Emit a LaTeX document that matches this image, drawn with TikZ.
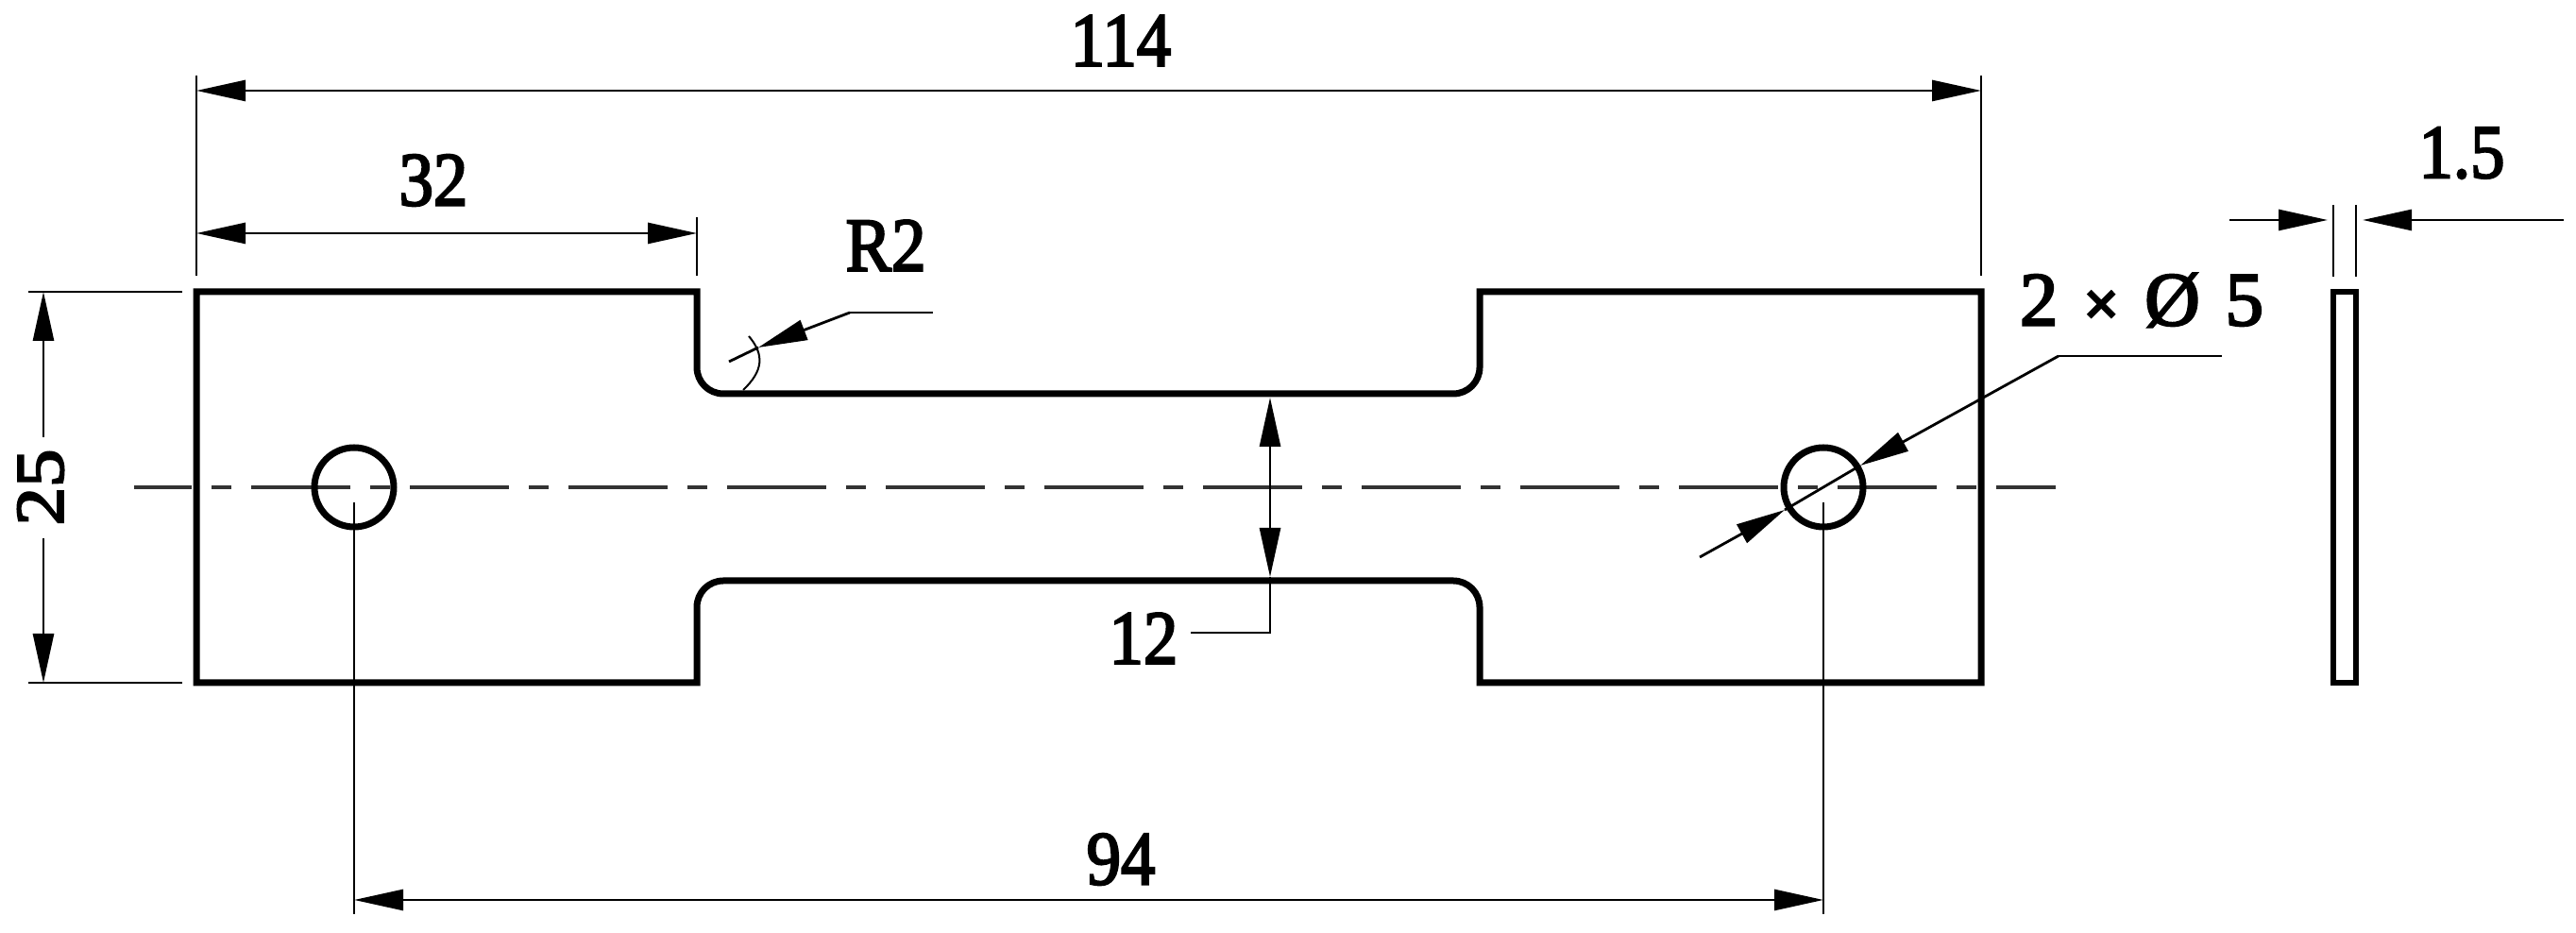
\documentclass[tikz,border=0pt]{standalone}
\usepackage{fontspec}
\setmainfont{Liberation Serif}
\newfontfamily\dimfont[FakeBold=3]{Liberation Serif}
\usetikzlibrary{arrows.meta}
\tikzset{
    outline/.style={line width=.07cm, line join=miter},
    dimline/.style={line width=.028cm},
    dimarrow/.style={dimline, -{Triangle[length=.52cm,width=.22cm]}},
    dimboth/.style={dimline, {Triangle[length=.52cm,width=.22cm]}-{Triangle[length=.52cm,width=.22cm]}},
    axisline/.style={line width=.035cm, draw=black!80, dash pattern=on 1.05cm off .21cm on .21cm off .21cm, dash phase=.44cm},
    dimlabel/.style={font=\dimfont\fontsize{23}{23}\selectfont, inner sep=0pt, transform shape, xscale=.9},
}

\begin{document}
\begin{tikzpicture}
    \useasboundingbox (0,0) rectangle (27.28,9.88);

    % Plate seen from the front
    \draw[outline] (2.08,6.79) -- (7.38,6.79) -- (7.38,5.99) arc (180:270:.28) -- (15.39,5.71) arc (270:360:.28)
        -- (15.67,6.79) -- (20.98,6.79) -- (20.98,2.65) -- (15.67,2.65) -- (15.67,3.45) arc (0:90:.28)
        -- (7.66,3.73) arc (90:180:.28) -- (7.38,2.65) -- (2.08,2.65) -- cycle;
    \draw[axisline] (1.42,4.72) -- (21.77,4.72);
    \foreach \x in {3.75,19.31}{
        \draw[line width=.07cm] (\x,4.72) circle (.42);
        \draw[dimline] (\x,4.56) -- (\x,.20);
    }

    % Plate seen from the side
    \draw[line width=.06cm] (24.71,2.65) rectangle (24.95,6.79);

    % Extension lines
    \foreach \x in {2.08,20.98}{
        \draw[dimline] (\x,9.08) -- (\x,6.96);
    }
    \draw[dimline] (7.38,7.58) -- (7.38,6.96);
    \foreach \y in {6.79,2.65}{
        \draw[dimline] (.30,\y) -- (1.93,\y);
    }
    \foreach \x in {24.71,24.95}{
        \draw[dimline] (\x,7.71) -- (\x,6.95);
    }

    % Overall length and shoulder
    \draw (11.87,9.45) node (lbllength) [dimlabel]{114};
    \coordinate (lengthL) at (2.08,8.92);
    \coordinate (lengthR) at (20.98,8.92);
    \draw[dimboth] (lengthL) -- (lengthR);
    \draw (4.59,7.97) node (lblshoulder) [dimlabel]{32};
    \coordinate (shoulderL) at (2.08,7.41);
    \coordinate (shoulderR) at (7.38,7.41);
    \draw[dimboth] (shoulderL) -- (shoulderR);

    % Width of the plate
    \draw (.43,4.72) node (lblwidth) [dimlabel, rotate=90]{25};
    \coordinate (widthT) at (.46,6.79);
    \coordinate (widthB) at (.46,2.65);
    \coordinate (widthGapT) at (.46,5.25);
    \coordinate (widthGapB) at (.46,4.18);
    \draw[dimarrow] (widthGapT) -- (widthT);
    \draw[dimarrow] (widthGapB) -- (widthB);

    % Neck
    \draw (12.11,3.12) node (lblneck) [dimlabel]{12};
    \coordinate (neckT) at (13.45,5.67);
    \coordinate (neckB) at (13.45,3.77);
    \coordinate (neckKnee) at (13.45,3.18);
    \coordinate (neckEnd) at (12.61,3.18);
    \draw[dimboth] (neckT) -- (neckB);
    \draw[dimline] (neckB) -- (neckKnee) -- (neckEnd);

    % Distance between the holes
    \draw (11.87,.78) node (lblholes) [dimlabel]{94};
    \coordinate (holesL) at (3.75,.35);
    \coordinate (holesR) at (19.31,.35);
    \draw[dimboth] (holesL) -- (holesR);

    % Radius of the fillet
    \draw (9.38,7.28) node (lblradius) [dimlabel]{R2};
    \coordinate (radiusEnd) at (9.88,6.57);
    \coordinate (radiusKnee) at (9.00,6.57);
    \coordinate (radiusTip) at (8.03,6.20);
    \coordinate (radiusTail) at (7.72,6.05);
    \draw[dimline] (radiusEnd) -- (radiusKnee);
    \draw[dimarrow] (radiusKnee) -- (radiusTip);
    \draw[dimline] (radiusTip) -- (radiusTail);
    \draw[line width=.02cm] (7.93,6.32) .. controls (8.10,6.12) and (8.08,5.95) .. (7.87,5.75);

    % Hole diameter
    \draw (22.68,6.70) node (lblhole) [font=\dimfont\fontsize{23}{23}\selectfont, inner sep=0pt, transform shape]{2\,\,{\bfseries\fontsize{19}{19}\selectfont ×}\,\,Ø\,\,5};
    \coordinate (holeEnd) at (23.53,6.11);
    \coordinate (holeKnee) at (21.80,6.11);
    \coordinate (holeTipA) at (19.70,4.95);
    \coordinate (holeTipB) at (18.90,4.48);
    \coordinate (holeTail) at (18.00,3.98);
    \draw[dimline] (holeEnd) -- (holeKnee);
    \draw[dimarrow] (holeKnee) -- (holeTipA);
    \draw[dimline] (holeTipA) -- (holeTipB);
    \draw[dimarrow] (holeTail) -- (holeTipB);

    % Thickness
    \draw (26.07,8.26) node (lblthick) [dimlabel]{1.5};
    \coordinate (thickL) at (23.61,7.55);
    \coordinate (thickTipL) at (24.65,7.55);
    \coordinate (thickR) at (27.15,7.55);
    \coordinate (thickTipR) at (25.02,7.55);
    \draw[dimarrow] (thickL) -- (thickTipL);
    \draw[dimarrow] (thickR) -- (thickTipR);
\end{tikzpicture}
\end{document}
